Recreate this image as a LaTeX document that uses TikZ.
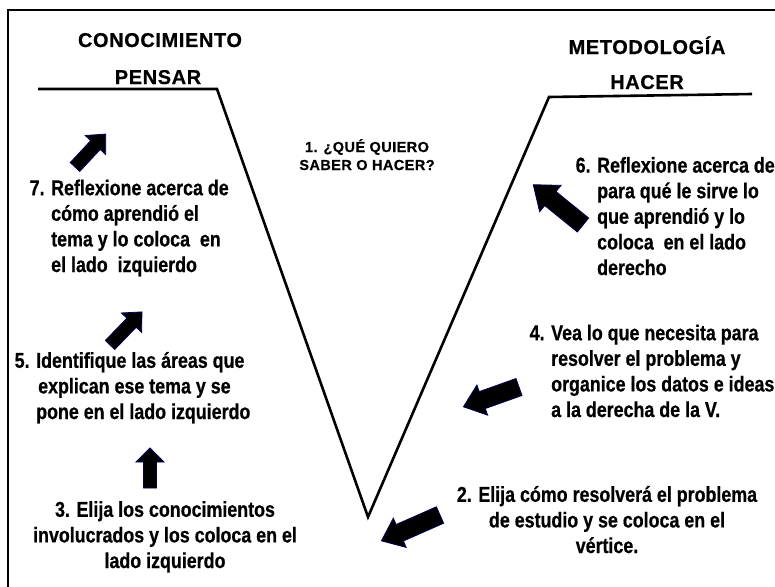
\documentclass[tikz,border=0pt]{standalone}
\usepackage{fontspec}
\setmainfont{Liberation Sans}
\newfontfamily\bodyfont[FakeStretch=0.83, BoldFeatures={FakeBold=0.6}]{Liberation Sans}
\newfontfamily\headfont[LetterSpace=3, BoldFeatures={FakeBold=0.5}]{Liberation Sans}
\newcommand\blkarrow[7]{% name, tail, angle, length, shaft half, head half, head length
  \begin{scope}[shift={#2}, rotate=#3]
    \path[arrowfill] (0,-#5) -- ({#4-#7},-#5) -- ({#4-#7},-#6) -- (#4,0) -- ({#4-#7},#6) -- ({#4-#7},#5) -- (0,#5) -- cycle;
    \coordinate (#1) at (#4,0);
  \end{scope}}
\tikzset{
  vline/.style={line width=2.6pt, line join=miter},
  frame/.style={line width=1.3pt},
  head/.style={font=\headfont\bfseries\fontsize{20}{24}\selectfont, inner sep=0pt, anchor=base},
  body/.style={font=\bodyfont\bfseries\fontsize{21.5}{25.6}\selectfont, inner sep=0pt},
  quest/.style={font=\headfont\bfseries\fontsize{14.5}{18}\selectfont, align=center, inner sep=0pt, anchor=base},
  arrowfill/.style={fill=black, draw=blue!35!black, line width=0.8pt, line join=miter}
}
\begin{document}
\begin{tikzpicture}[x=1pt,y=-1pt]
\useasboundingbox (0,0) rectangle (775,586);
\fill[white] (0,0) rectangle (775,586);
% frame
\coordinate (fBL) at (8,600);
\coordinate (fTL) at (8,10);
\coordinate (fTR) at (790,10);
\draw[frame] (fBL) -- (fTL) -- (fTR);
% the V
\coordinate (lA) at (38,89);
\coordinate (lB) at (217,89);
\coordinate (vtx) at (368,517);
\coordinate (rA) at (549,97);
\coordinate (rB) at (752,94);
\draw[vline] (lA) -- (lB) -- (vtx) -- (rA) -- (rB);
% headings
\node[head] (con) at (160,47) {CONOCIMIENTO};
\node[head] (pen) at (158,84) {PENSAR};
\node[head] (met) at (647,54) {METODOLOGÍA};
\node[head] (hac) at (647,89) {HACER};
\node[quest] (q1) at (367,170) {1. ¿QUÉ QUIERO\\SABER O HACER?};
% text blocks (base anchor = baseline of the last line)
\node[body, align=left, anchor=base west] (t7) at (51,272)
  {\llap{7. }Reflexione acerca de\\cómo aprendió el\\tema y lo coloca~ en\\el lado~ izquierdo};
\node[body, align=left, anchor=base west] (t5) at (36,419)
  {\llap{5. }Identifique las áreas que\\\hspace*{2pt}explican ese tema y se\\pone en el lado izquierdo};
\node[body, align=center, anchor=base] (t3) at (165,568)
  {3. Elija los conocimientos\\involucrados y los coloca en el\\lado izquierdo};
\node[body, align=left, anchor=base west] (t6) at (597,275)
  {\llap{6. }Reflexione acerca de\\para qué le sirve lo\\que aprendió y lo\\coloca~ en el lado\\derecho};
\node[body, align=left, anchor=base west] (t4) at (551,417)
  {\llap{4. }Vea lo que necesita para\\resolver el problema y\\organice los datos e ideas\\a la derecha de la V.};
\node[body, align=center, anchor=base] (t2) at (607,553)
  {2. Elija cómo resolverá el problema\\de estudio y se coloca en el\\vértice.};
% block arrows
\blkarrow{a7}{(75,167)}{47}{45}{6.5}{14}{15}
\blkarrow{a5}{(110,345)}{46}{46}{6.5}{14}{15}
\blkarrow{a3}{(150,488)}{90}{40}{6.5}{14}{14}
\blkarrow{a6}{(583,225)}{141}{64}{9}{17}{22}
\blkarrow{a4}{(519,387)}{199.6}{59}{9}{16}{20}
\blkarrow{a2}{(440,515)}{203.8}{64}{9}{16}{20}
\end{tikzpicture}
\end{document}
